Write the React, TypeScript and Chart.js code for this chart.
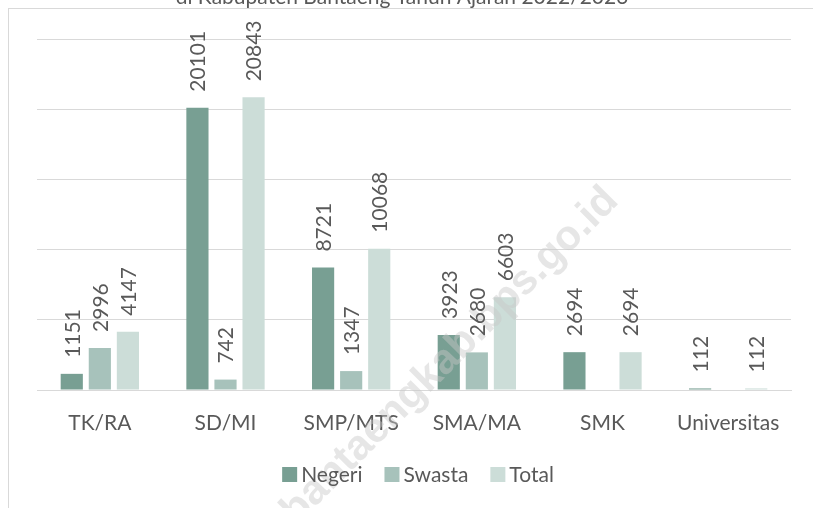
import React, { useEffect, useRef } from "react";
import { Chart, registerables } from "chart.js";

Chart.register(...registerables);

const categories = ["TK/RA", "SD/MI", "SMP/MTS", "SMA/MA", "SMK", "Universitas"];
const seriesNames = ["Negeri", "Swasta", "Total"];
const negeri = [1151, 20101, 8721, 3923, 2694, 112];
const swasta = [2996, 742, 1347, 2680, null, null];
const total = [4147, 20843, 10068, 6603, 2694, 112];
const colors = ["#789F93", "#A7C2BB", "#CCDDD8"];
const yMax = 25000;
const yStep = 5000;
const titleText = "di Kabupaten Bantaeng Tahun Ajaran 2022/2023";
const watermarkText = "bantaengkab.bps.go.id";

const FONT = "Lato, 'Open Sans', sans-serif";
const TEXT = "#595959";
const GRID = "#D9D9D9";

const decorPlugin = {
  id: "decor",
  beforeDraw(chart: any) {
    const ctx = chart.ctx;
    ctx.save();
    ctx.strokeStyle = GRID;
    ctx.lineWidth = 1;
    ctx.strokeRect(8.5, 8.5, 1000, 1000);
    ctx.fillStyle = TEXT;
    ctx.font = `21px ${FONT}`;
    ctx.textAlign = "center";
    ctx.textBaseline = "alphabetic";
    ctx.fillText(titleText, 402, 4);
    ctx.restore();
  },
  afterDatasetsDraw(chart: any) {
    const ctx = chart.ctx;
    // watermark
    ctx.save();
    ctx.translate(450, 356);
    ctx.rotate(-Math.PI / 4);
    ctx.font = `bold 42px 'Liberation Sans', Arial, sans-serif`;
    ctx.fillStyle = "rgba(200,200,200,0.45)";
    ctx.textAlign = "center";
    ctx.textBaseline = "middle";
    ctx.fillText(watermarkText, 0, 0);
    ctx.restore();

    // data labels
    ctx.save();
    ctx.font = `21px ${FONT}`;
    ctx.fillStyle = TEXT;
    chart.data.datasets.forEach((ds: any, di: number) => {
      const meta = chart.getDatasetMeta(di);
      meta.data.forEach((bar: any, i: number) => {
        const v = ds.data[i];
        if (v === null || v === undefined) return;
        ctx.save();
        ctx.translate(bar.x + 1, bar.y - 16);
        ctx.rotate(-Math.PI / 2);
        ctx.textAlign = "left";
        ctx.textBaseline = "middle";
        ctx.fillText(String(v), 0, 0);
        ctx.restore();
      });
    });
    ctx.restore();

    // legend
    ctx.save();
    ctx.font = `21px ${FONT}`;
    const sq = 15;
    const gap = 4;
    const spacing = 22;
    const widths = seriesNames.map((n) => ctx.measureText(n).width);
    const totalW =
      widths.reduce((a, b) => a + b, 0) + seriesNames.length * (sq + gap) + spacing * (seriesNames.length - 1);
    let x = 418 - totalW / 2;
    const cy = 474.5;
    seriesNames.forEach((n, i) => {
      ctx.fillStyle = colors[i];
      ctx.fillRect(x, cy - sq / 2, sq, sq);
      x += sq + gap;
      ctx.fillStyle = TEXT;
      ctx.textAlign = "left";
      ctx.textBaseline = "middle";
      ctx.fillText(n, x, cy + 1);
      x += widths[i] + spacing;
    });
    ctx.restore();
  },
};

export default function App() {
  const ref = useRef<HTMLCanvasElement>(null);
  useEffect(() => {
    if (!ref.current) return;
    const chart = new Chart(ref.current, {
      type: "bar",
      data: {
        labels: categories,
        datasets: [
          { label: seriesNames[0], data: negeri, backgroundColor: colors[0] },
          { label: seriesNames[1], data: swasta as any, backgroundColor: colors[1] },
          { label: seriesNames[2], data: total, backgroundColor: colors[2] },
        ],
      },
      options: {
        responsive: false,
        animation: false,
        devicePixelRatio: 1,
        layout: { padding: { left: 37, right: 22, top: 39, bottom: 0 } },
        datasets: { bar: { categoryPercentage: 0.67, barPercentage: 0.79 } },
        plugins: { legend: { display: false }, tooltip: { enabled: false }, title: { display: false } },
        scales: {
          x: {
            grid: { display: false },
            border: { display: true, color: GRID, width: 1 },
            ticks: { color: TEXT, font: { family: FONT, size: 21 }, padding: 13, maxRotation: 0 },
            afterFit: (s: any) => {
              s.height = 118;
            },
          },
          y: {
            min: 0,
            max: yMax,
            ticks: { display: false, stepSize: yStep },
            grid: { color: GRID, drawTicks: false, lineWidth: 1 },
            border: { display: false },
            afterFit: (s: any) => {
              s.width = 0;
            },
          },
        },
      },
      plugins: [decorPlugin],
    });
    return () => chart.destroy();
  }, []);
  return (
    <div style={{ position: "absolute", left: 0, top: 0, width: 813, height: 508, background: "#fff" }}>
      <canvas ref={ref} width={813} height={508} style={{ display: "block" }} />
    </div>
  );
}
